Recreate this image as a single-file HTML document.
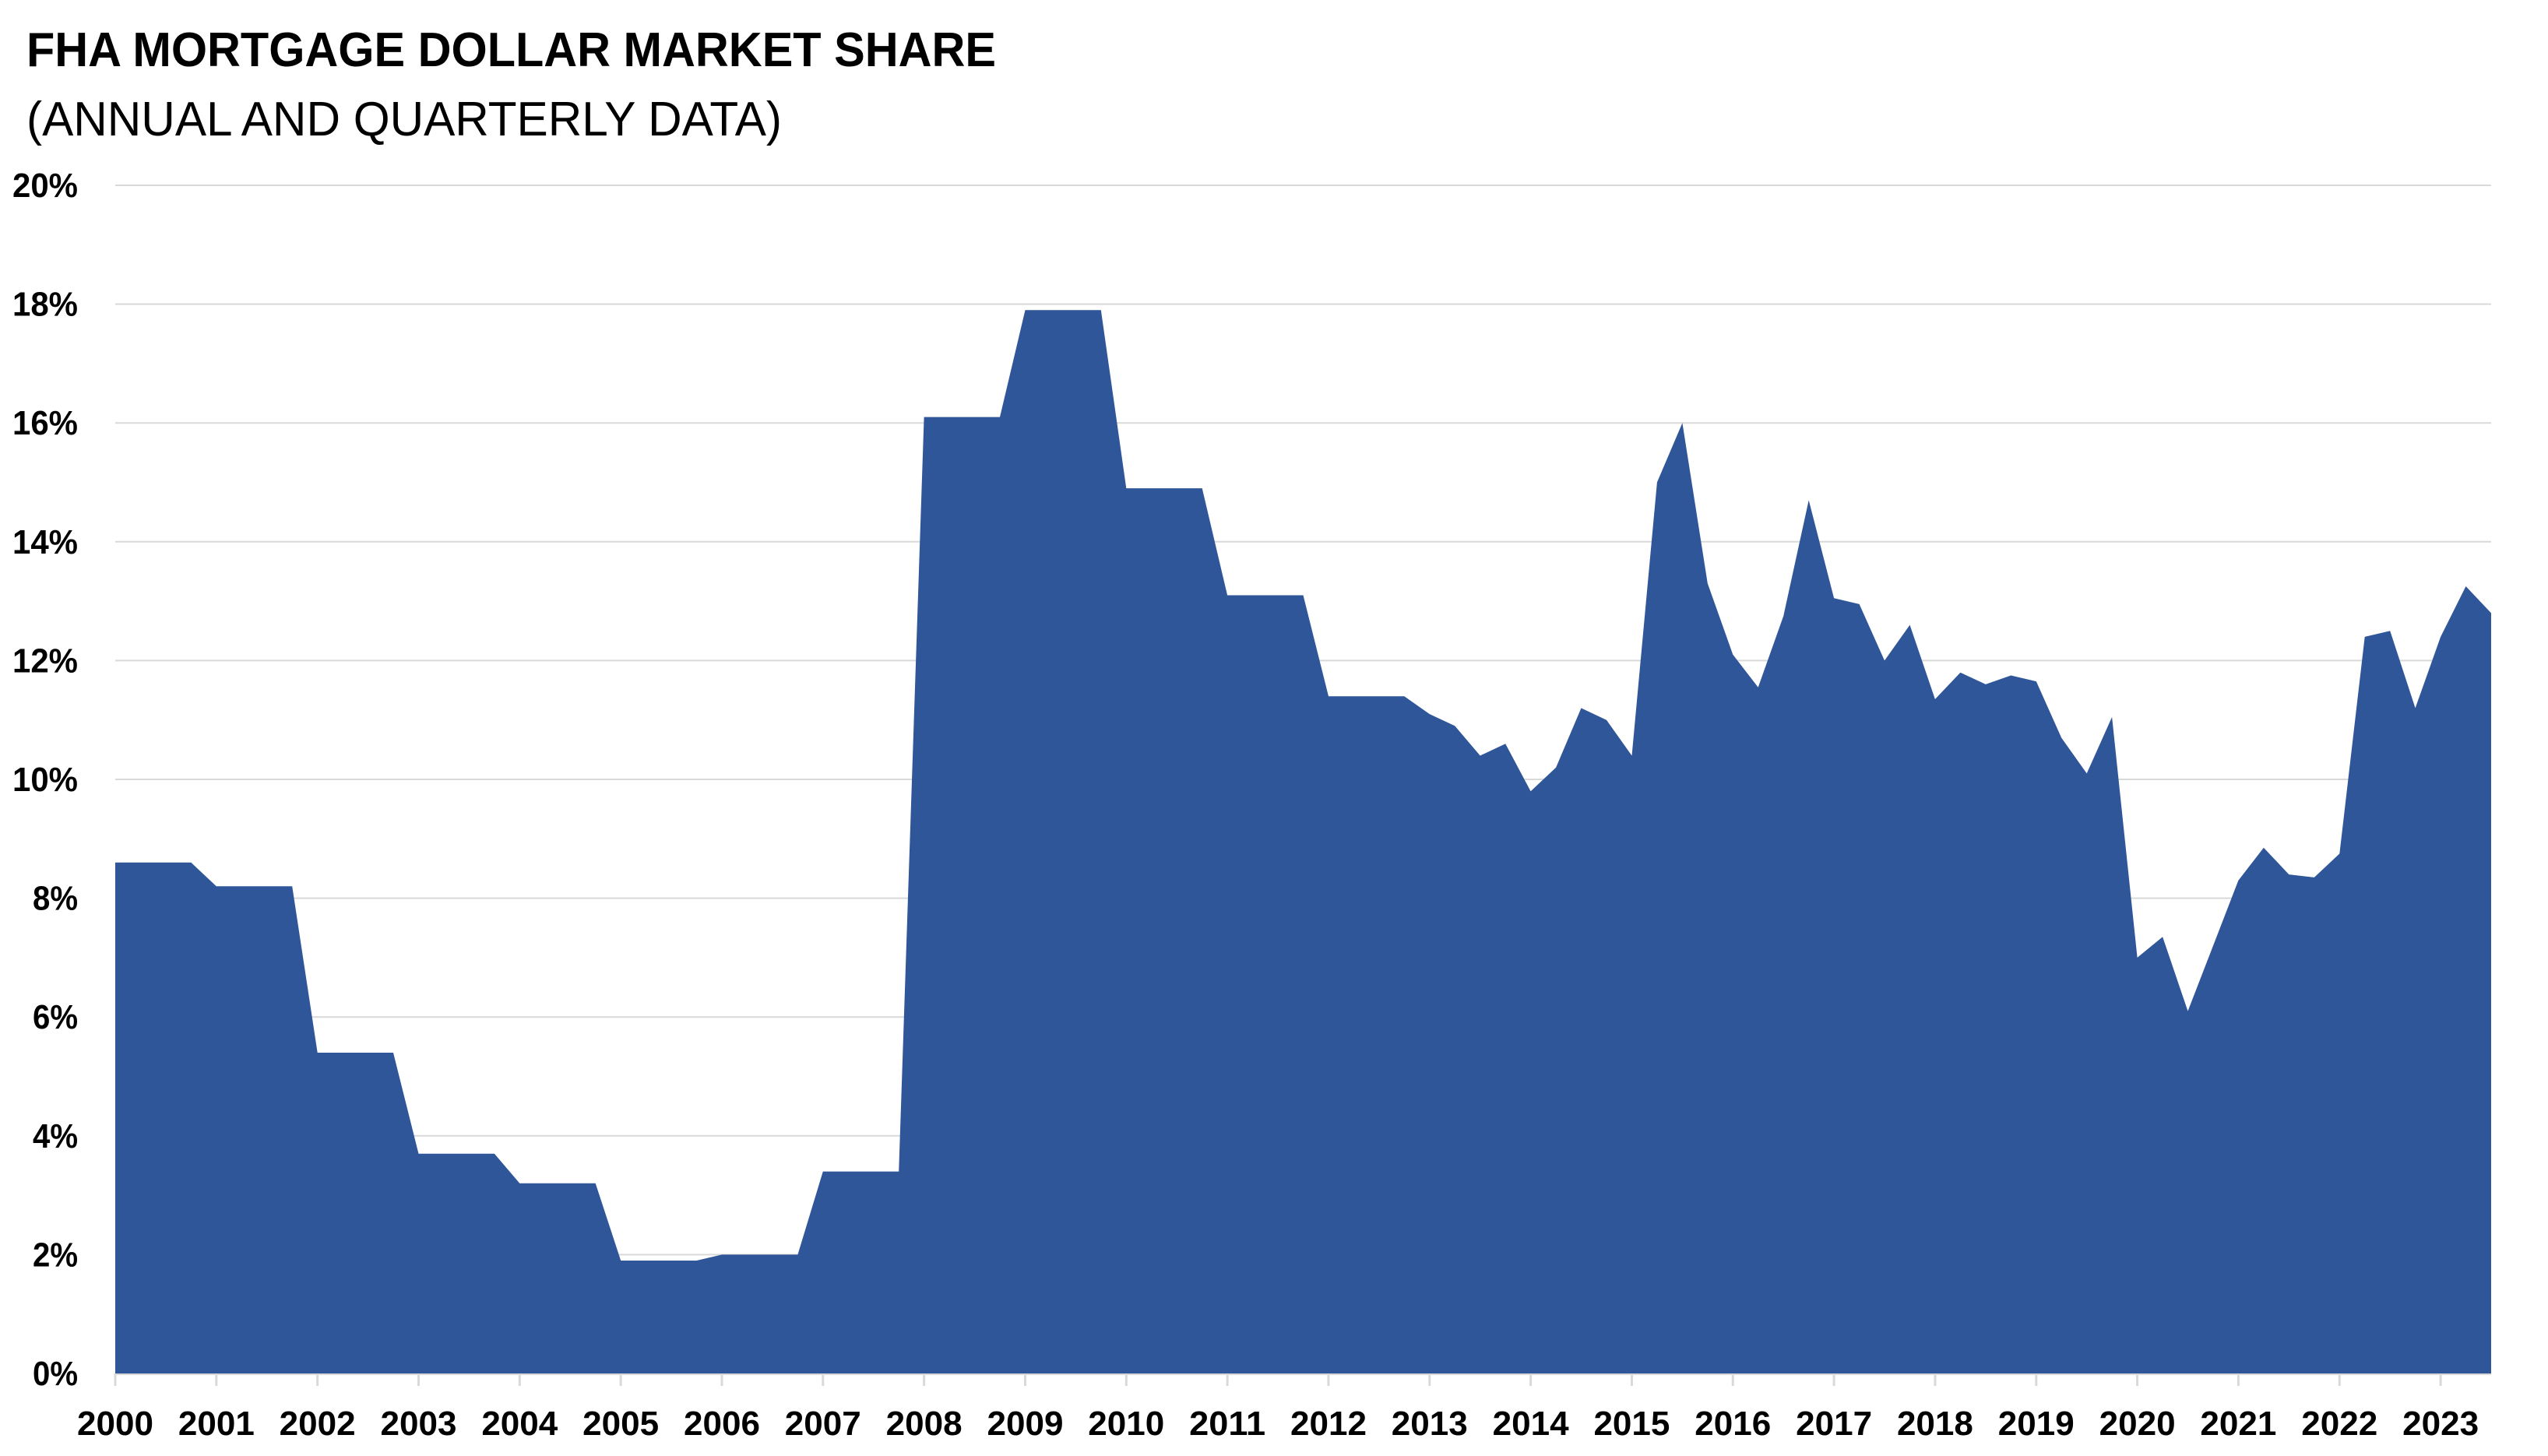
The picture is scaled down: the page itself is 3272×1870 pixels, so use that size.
<!DOCTYPE html>
<html><head><meta charset="utf-8"><style>
html,body{margin:0;padding:0;background:#fff;}
svg{display:block}
</style></head><body>
<svg id="c" width="3272" height="1870" xmlns="http://www.w3.org/2000/svg" font-family="Liberation Sans, sans-serif">
<text x="34" y="85" font-size="62" font-weight="bold" textLength="1245" lengthAdjust="spacingAndGlyphs">FHA MORTGAGE DOLLAR MARKET SHARE</text>
<text x="34" y="174" font-size="62" textLength="970" lengthAdjust="spacingAndGlyphs">(ANNUAL AND QUARTERLY DATA)</text>
<g id="grid"></g>
<path id="area" fill="#30569a" d=""/>
<g id="lbl" font-weight="bold" font-size="44"></g>
</svg>
<script>
var X0=148,YW=129.83,Y0=1764,PY=76.3,XR=3199;
var g=document.getElementById('grid'),l=document.getElementById('lbl');
var ns='http://www.w3.org/2000/svg';
function el(p,t,a,txt){var e=document.createElementNS(ns,t);for(var k in a)e.setAttribute(k,a[k]);if(txt!==undefined)e.textContent=txt;p.appendChild(e);}
for(var i=0;i<=10;i++){var y=Y0-i*2*PY;el(g,'line',{x1:X0,x2:XR,y1:y,y2:y,stroke:'#d9d9d9','stroke-width':(i==0?4:2)});
el(l,'text',{x:100,y:y+15,'text-anchor':'end',textLength:(i<5?58:84),lengthAdjust:'spacingAndGlyphs'},(i*2)+'%');}
for(var yr=0;yr<=23;yr++){var x=X0+yr*YW;el(g,'line',{x1:x,x2:x,y1:Y0,y2:Y0+16,stroke:'#d9d9d9','stroke-width':3});
el(l,'text',{x:x,y:1843,'text-anchor':'middle',textLength:98,lengthAdjust:'spacingAndGlyphs'},String(2000+yr));}
var ann=[8.6,8.2,5.4,3.7,3.2,1.9,2.0,3.4,16.1,17.9,14.9,13.1,11.4];
var pts=[];
for(var a=0;a<ann.length;a++)for(var q=0;q<4;q++)pts.push([a+q*0.25,ann[a]]);
var qd=[11.1,10.9,10.4,10.6,9.8,10.2,11.2,11.0,10.4,15.0,16.0,13.3,12.1,11.55,12.75,14.7,13.05,12.95,12.0,12.6,11.35,11.8,11.6,11.75,11.65,10.7,10.1,11.05,7.0,7.35,6.1,7.2,8.3,8.85,8.4,8.35,8.75,12.4,12.5,11.2,12.4,13.25,12.8];
for(var k=0;k<qd.length;k++)pts.push([13+k*0.25,qd[k]]);
var d='M'+X0+','+Y0;
pts.forEach(function(p){var x=X0+p[0]*YW;if(x>XR)x=XR;d+=' L'+x.toFixed(1)+','+(Y0-p[1]*PY).toFixed(1);});
d+=' L'+XR+','+Y0+' Z';
document.getElementById('area').setAttribute('d',d);
</script>
</body></html>
